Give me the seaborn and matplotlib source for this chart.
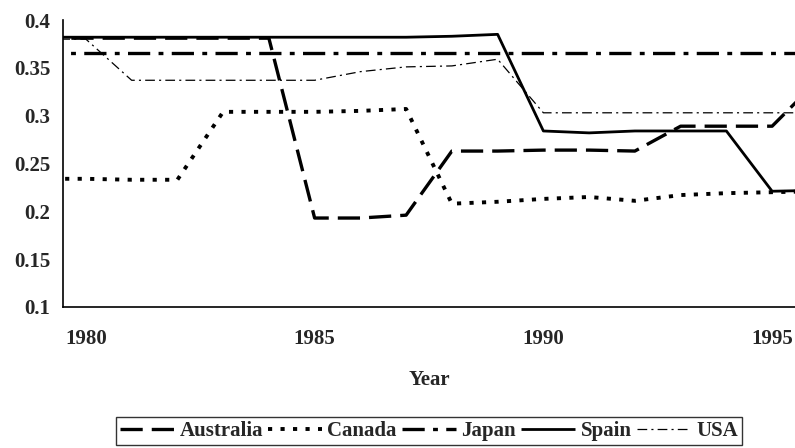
import matplotlib
matplotlib.use('Agg')
import matplotlib.pyplot as plt
import seaborn as sns
import pandas as pd

# values (1979 and 1996 only show as the half-segments at the edges)
years = list(range(1979, 1997))
australia = [0.381, 0.381, 0.381, 0.381, 0.381, 0.381, 0.193, 0.193, 0.196, 0.263,
             0.263, 0.264, 0.264, 0.263, 0.289, 0.289, 0.289, 0.337]
canada = [0.234, 0.234, 0.233, 0.233, 0.304, 0.304, 0.304, 0.305, 0.307, 0.208,
          0.210, 0.213, 0.215, 0.211, 0.217, 0.219, 0.220, 0.221]
japan = [0.366] * 18
spain = [0.382, 0.382, 0.382, 0.382, 0.382, 0.382, 0.382, 0.382, 0.382, 0.383,
         0.385, 0.284, 0.282, 0.284, 0.284, 0.284, 0.221, 0.222]
usa = [0.380, 0.380, 0.337, 0.337, 0.337, 0.337, 0.337, 0.346, 0.351, 0.352,
       0.359, 0.303, 0.303, 0.303, 0.303, 0.303, 0.303, 0.303]

year_labels = [1980, 1985, 1990, 1995]

sns.set_style('white')
plt.rcParams['font.family'] = ['Liberation Serif', 'DejaVu Serif']
plt.rcParams['font.weight'] = 'bold'
plt.rcParams['lines.scale_dashes'] = False

df = pd.DataFrame({'Year': years, 'Australia': australia, 'Canada': canada,
                   'Japan': japan, 'Spain': spain, 'USA': usa})

# line styles (dashes in points)
styles = {
    'Australia': dict(lw=2.4, linestyle=(0, (16, 6.5))),
    'Canada': dict(lw=2.8, linestyle=(0, (3, 6))),
    'Japan': dict(lw=2.4, linestyle=(0, (16, 6, 3.5, 6))),
    'Spain': dict(lw=2.0, linestyle='-'),
    'USA': dict(lw=0.9, linestyle=(0, (7, 3, 1.5, 3))),
}

fs = 15

fig = plt.figure(figsize=(7.95, 4.48), dpi=100)
ax = fig.add_axes([63 / 795, 1 - 307 / 448, 1 - 63 / 795, 287 / 448])

for name, st in styles.items():
    sns.lineplot(data=df, x='Year', y=name, ax=ax, color='black', label=name,
                 solid_capstyle='butt', dash_capstyle='butt', **st)

ax.set_xlim(1979.5, 1995.5)
ax.set_ylim(0.1, 0.4)

# category-style axis: ticks between years, labels on the years
ax.set_xticks([1979.5, 1984.5, 1989.5, 1994.5])
ax.set_xticklabels([])
ax.set_xticks(year_labels, minor=True)
ax.set_xticklabels([str(y) for y in year_labels], minor=True)
ax.tick_params(axis='x', which='major', direction='out', length=5, width=1, color='black')
ax.tick_params(axis='x', which='minor', length=0, pad=16, labelsize=fs)

yt = [0.1, 0.15, 0.2, 0.25, 0.3, 0.35, 0.4]
ax.set_yticks(yt)
ax.set_yticklabels([f'{v:g}' for v in yt])
ax.tick_params(axis='y', direction='out', length=5, width=1, color='black', pad=4, labelsize=fs)

for s in ['top', 'right']:
    ax.spines[s].set_visible(False)
for s in ['left', 'bottom']:
    ax.spines[s].set_color('black')
    ax.spines[s].set_linewidth(1.2)

ax.set_xlabel('Year', fontsize=fs, fontweight='bold', labelpad=15)
ax.set_ylabel('')

handles, labels = ax.get_legend_handles_labels()
leg = fig.legend(handles, labels, loc='center', bbox_to_anchor=(429 / 795, 1 - 431 / 448),
                 ncol=5, frameon=True, fancybox=False, edgecolor='black',
                 handlelength=2.6, handletextpad=0.25, columnspacing=0.25,
                 borderpad=0.2, prop={'size': fs, 'weight': 'bold'})
leg.get_frame().set_linewidth(1.0)
if ax.get_legend() is not None:
    ax.get_legend().remove()

fig.savefig('out.png', dpi=100, facecolor='white')
plt.close(fig)
